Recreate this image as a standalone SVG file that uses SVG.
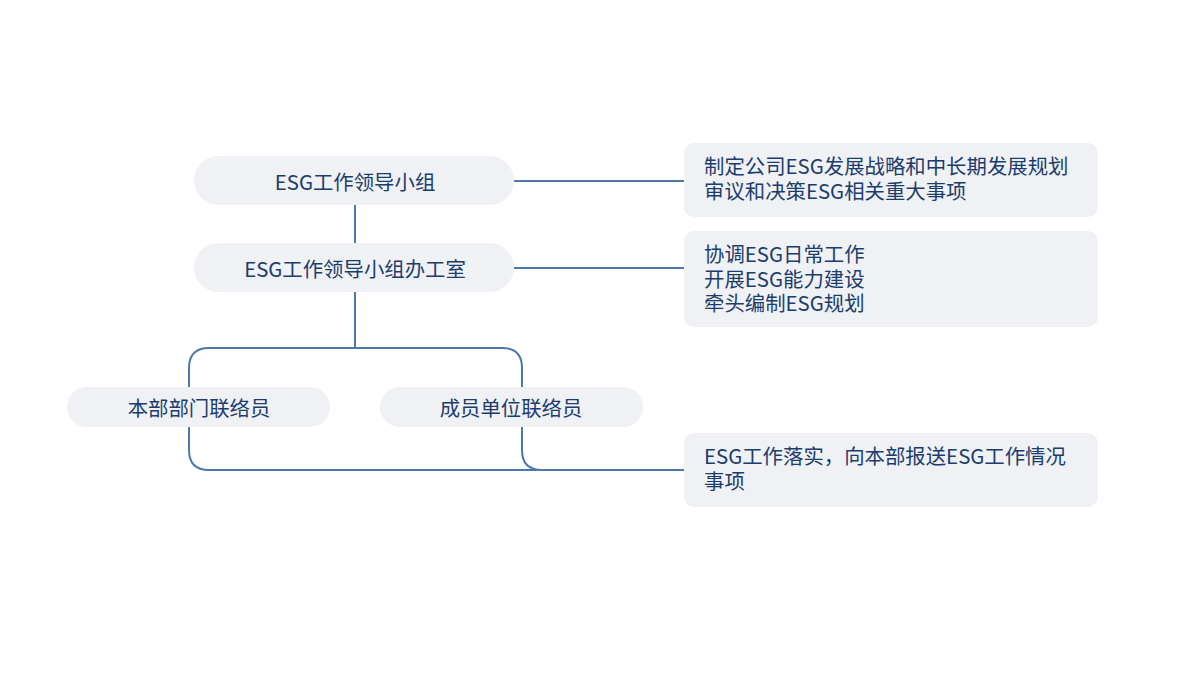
<svg xmlns="http://www.w3.org/2000/svg" width="1200" height="675" viewBox="0 0 1200 675">
<style>
.bg{fill:#ffffff}
.pill{fill:#f0f1f4}
.box{fill:#f0f1f4}
.t{font-family:"Noto Sans CJK SC","Noto Sans",sans-serif;font-size:20.4px;fill:#1b3d6d}
.c{text-anchor:middle;dominant-baseline:central}
.conn{fill:none;stroke:#4d79aa;stroke-width:2}
</style>
<rect class="bg" x="0" y="0" width="1200" height="675"/>
<g id="connectors">
<path class="conn" d="M355 205V243"/>
<path class="conn" d="M355 292V348"/>
<path class="conn" d="M514 181H684"/>
<path class="conn" d="M514 268H684"/>
<path class="conn" d="M189 400V368Q189 348 209 348H502Q522 348 522 368V400"/>
<path class="conn" d="M189 420V450Q189 470 209 470H684"/>
<path class="conn" d="M522 420V450Q522 470 542 470"/>
</g>
<g id="n1">
<rect class="pill" x="194" y="156" width="320" height="49" rx="24.5"/>
<text class="t c" x="355" y="181">ESG工作领导小组</text>
</g>
<g id="n2">
<rect class="pill" x="194" y="243" width="320" height="49" rx="24.5"/>
<text class="t c" x="355" y="268">ESG工作领导小组办工室</text>
</g>
<g id="n3">
<rect class="pill" x="67" y="387" width="263" height="40" rx="20"/>
<text class="t c" x="199" y="407">本部部门联络员</text>
</g>
<g id="n4">
<rect class="pill" x="380" y="387" width="263" height="40" rx="20"/>
<text class="t c" x="511" y="407">成员单位联络员</text>
</g>
<g id="d1">
<rect class="box" x="684" y="143" width="414" height="74" rx="10"/>
<text class="t" x="704" y="174"><tspan x="704" y="174">制定公司ESG发展战略和中长期发展规划</tspan><tspan x="704" y="199">审议和决策ESG相关重大事项</tspan></text>
</g>
<g id="d2">
<rect class="box" x="684" y="231" width="414" height="96" rx="10"/>
<text class="t" x="704" y="262"><tspan x="704" y="262">协调ESG日常工作</tspan><tspan x="704" y="287">开展ESG能力建设</tspan><tspan x="704" y="311">牵头编制ESG规划</tspan></text>
</g>
<g id="d3">
<rect class="box" x="684" y="433" width="414" height="74" rx="10"/>
<text class="t" x="704" y="464"><tspan x="704" y="464">ESG工作落实，向本部报送ESG工作情况</tspan><tspan x="704" y="489">事项</tspan></text>
</g>
</svg>
